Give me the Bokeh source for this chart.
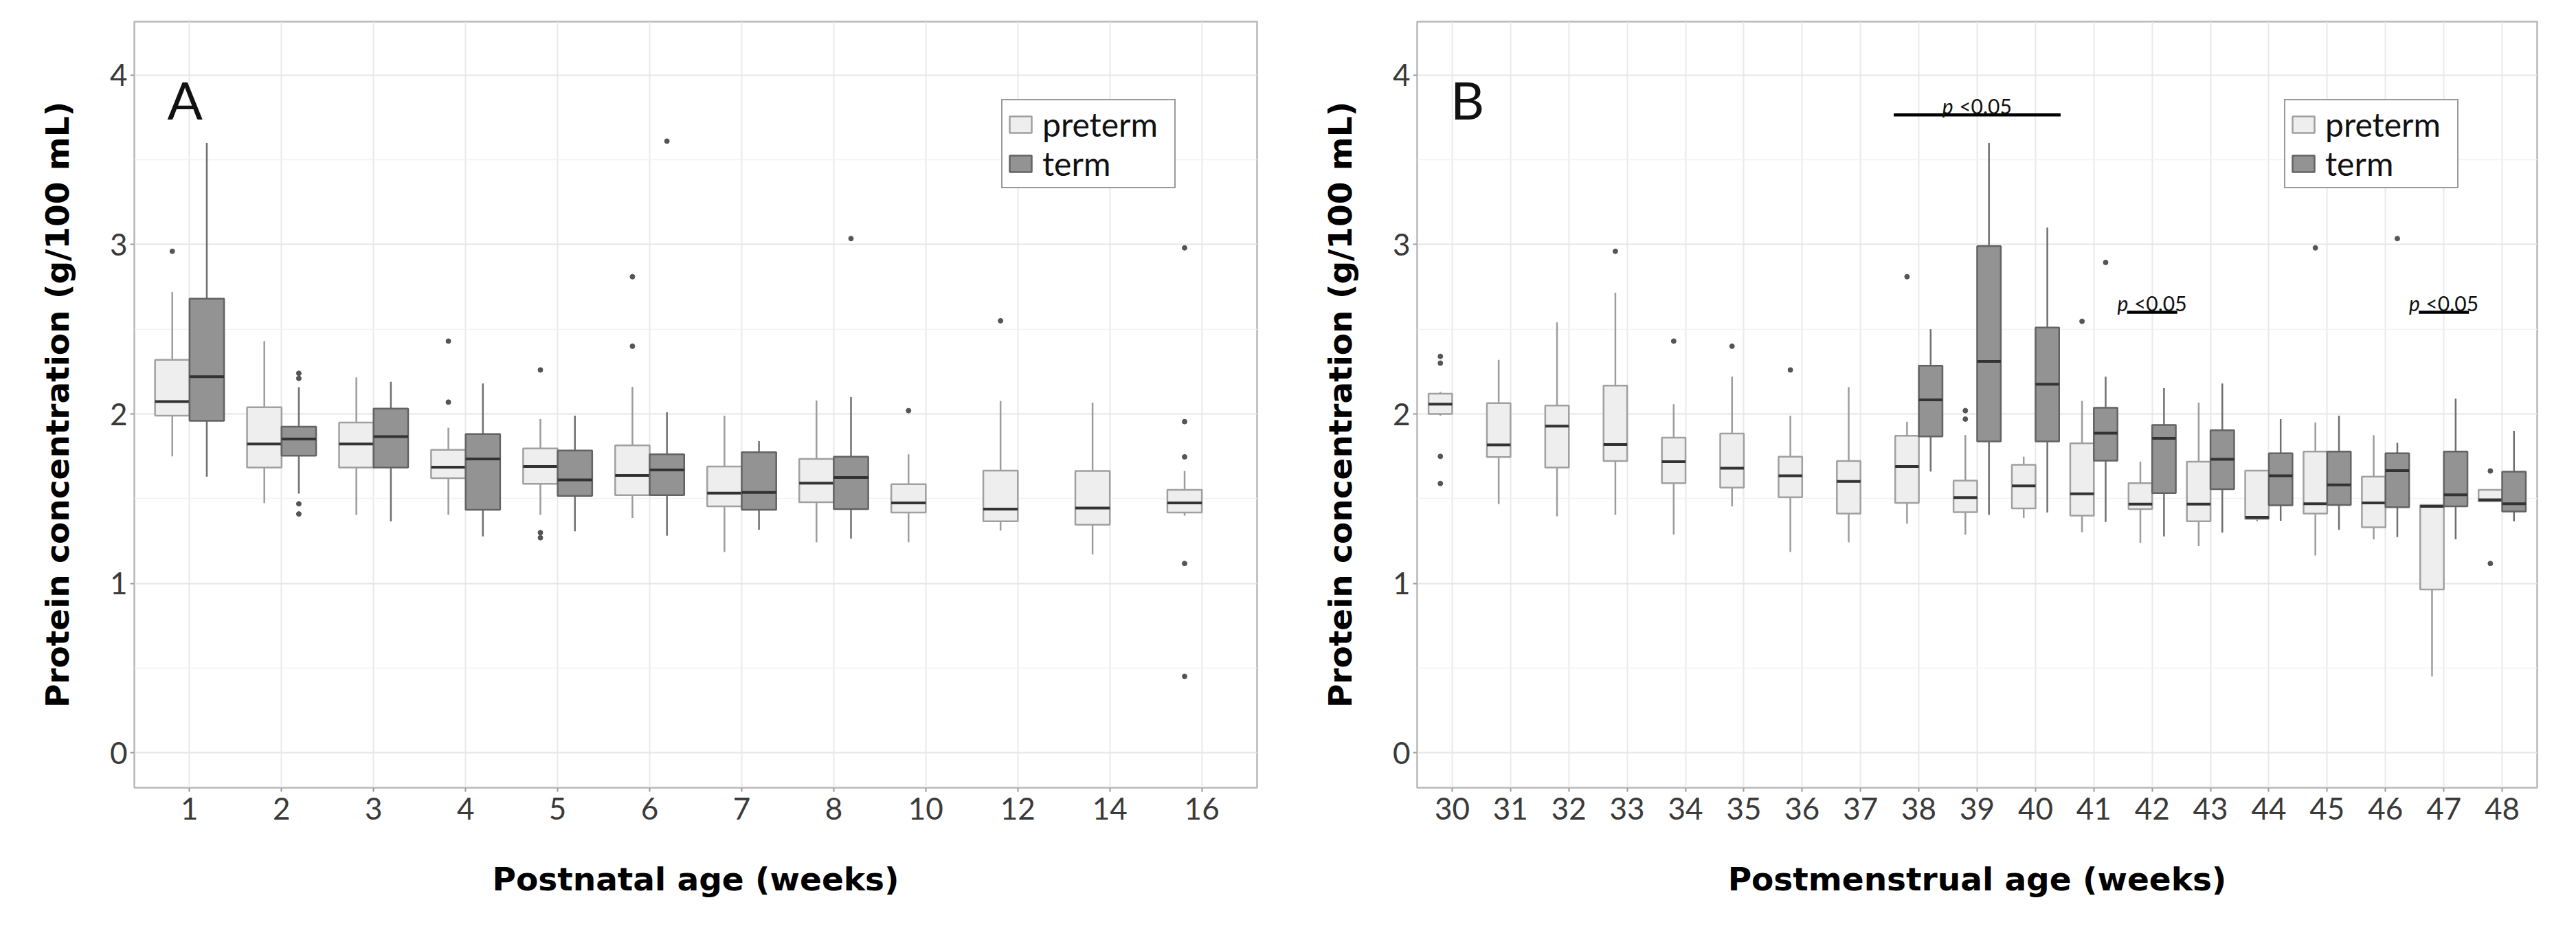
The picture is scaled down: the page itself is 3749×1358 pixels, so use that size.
from bokeh.plotting import figure
from bokeh.models import FixedTicker, Legend, LegendItem, Range1d, ColumnDataSource
from bokeh.layouts import row
from bokeh.core.properties import value
from bokeh.embed import file_html
from bokeh.resources import INLINE

# ---------------- Panel A data (postnatal age, weeks) ----------------
weeks_a = ["1", "2", "3", "4", "5", "6", "7", "8", "10", "12", "14", "16"]
a_pre_lo = [1.75, 1.475, 1.405, 1.405, 1.405, 1.386, 1.186, 1.243, 1.243, 1.312, 1.171, 1.40]
a_pre_q1 = [1.99, 1.684, 1.684, 1.621, 1.588, 1.521, 1.455, 1.479, 1.419, 1.367, 1.347, 1.419]
a_pre_med = [2.073, 1.823, 1.823, 1.686, 1.69, 1.637, 1.533, 1.592, 1.475, 1.439, 1.445, 1.475]
a_pre_q3 = [2.32, 2.04, 1.95, 1.788, 1.797, 1.815, 1.69, 1.735, 1.586, 1.666, 1.664, 1.552]
a_pre_hi = [2.72, 2.43, 2.216, 1.919, 1.97, 2.16, 1.99, 2.08, 1.762, 2.077, 2.067, 1.664]
a_pre_out = [[2.96], [], [], [2.43, 2.07], [2.26, 1.30, 1.27], [2.81, 2.40], [], [],
             [2.02], [2.55], [], [2.98, 1.955, 1.747, 1.118, 0.452]]

a_term_lo = [1.63, 1.53, 1.367, 1.278, 1.308, 1.282, 1.317, 1.265, None, None, None, None]
a_term_q1 = [1.96, 1.754, 1.684, 1.435, 1.517, 1.521, 1.435, 1.439, None, None, None, None]
a_term_med = [2.22, 1.852, 1.866, 1.735, 1.611, 1.67, 1.537, 1.625, None, None, None, None]
a_term_q3 = [2.68, 1.925, 2.032, 1.882, 1.784, 1.762, 1.774, 1.748, None, None, None, None]
a_term_hi = [3.60, 2.158, 2.19, 2.18, 1.99, 2.01, 1.84, 2.10, None, None, None, None]
a_term_out = [[], [2.24, 2.21, 1.47, 1.41], [], [], [], [3.61], [], [3.035], [], [], [], []]

# ---------------- Panel B data (postmenstrual age, weeks) ----------------
weeks_b = ["30", "31", "32", "33", "34", "35", "36", "37", "38", "39", "40",
           "41", "42", "43", "44", "45", "46", "47", "48"]
b_pre_lo = [1.99, 1.468, 1.396, 1.405, 1.288, 1.455, 1.186, 1.243, 1.353, 1.288, 1.386,
            1.302, 1.24, 1.22, 1.367, 1.165, 1.26, 0.452, 1.48]
b_pre_q1 = [2.0, 1.746, 1.684, 1.723, 1.592, 1.566, 1.509, 1.412, 1.475, 1.421, 1.443,
            1.40, 1.439, 1.367, 1.38, 1.412, 1.331, 0.965, 1.484]
b_pre_med = [2.058, 1.818, 1.928, 1.82, 1.719, 1.68, 1.635, 1.602, 1.69, 1.507, 1.576,
             1.529, 1.468, 1.468, 1.39, 1.47, 1.475, 1.455, 1.494]
b_pre_q3 = [2.12, 2.064, 2.05, 2.167, 1.86, 1.885, 1.748, 1.723, 1.872, 1.607, 1.70,
            1.827, 1.592, 1.719, 1.666, 1.778, 1.63, 1.463, 1.552]
b_pre_hi = [2.13, 2.32, 2.54, 2.715, 2.058, 2.22, 1.99, 2.158, 1.954, 1.876, 1.748,
            2.077, 1.719, 2.067, 1.67, 1.95, 1.875, 1.463, 1.552]
b_pre_out = [[2.34, 2.30, 1.75, 1.59], [], [], [2.96], [2.43], [2.40], [2.26], [], [2.81],
             [2.02, 1.97], [], [2.547], [], [], [], [2.98], [], [], [1.664, 1.118]]

_n = None
b_term_lo = [_n] * 8 + [1.66, 1.405, 1.419, 1.363, 1.278, 1.30, 1.37, 1.317, 1.274, 1.26, 1.367]
b_term_q1 = [_n] * 8 + [1.868, 1.838, 1.838, 1.725, 1.533, 1.556, 1.461, 1.463, 1.45, 1.455, 1.425]
b_term_med = [_n] * 8 + [2.083, 2.31, 2.176, 1.887, 1.856, 1.733, 1.635, 1.582, 1.666, 1.523, 1.47]
b_term_q3 = [_n] * 8 + [2.285, 2.99, 2.51, 2.037, 1.935, 1.904, 1.768, 1.778, 1.768, 1.778, 1.66]
b_term_hi = [_n] * 8 + [2.50, 3.60, 3.10, 2.22, 2.153, 2.18, 1.97, 1.99, 1.83, 2.09, 1.901]
b_term_out = [[]] * 8 + [[], [], [], [2.894], [], [], [], [], [3.035], [], []]

# significance bars (panel B): from week, to week, height, label
sig_from = ["38", "42", "47"]
sig_to = ["40", "42", "47"]
sig_y = [3.765, 2.60, 2.60]
sig_label_p = "p"
sig_label_rest = "<0.05"

y_ticks = [0, 1, 2, 3, 4]
y_minor = [0.5, 1.5, 2.5, 3.5]

FONT = "Lato"
TITLE_FONT = "DejaVu Sans"
PRE_FILL, PRE_LINE, PRE_WHISK = "#eeeeee", "#a0a0a0", "#9c9c9c"
TERM_FILL, TERM_LINE, TERM_WHISK = "#939393", "#636363", "#6f6f6f"
MED_COLOR = "#333333"


def make_panel(cats, pre, term, width, left_b, right_b, box_w, xlabel, letter, letter_x):
    n = len(cats)
    p = figure(width=width, height=1342,
               x_range=Range1d(0.4, n + 0.6), y_range=Range1d(-0.205, 4.315),
               min_border_left=left_b, min_border_right=right_b,
               min_border_top=31, min_border_bottom=196,
               toolbar_location=None, output_backend="svg")
    p.background_fill_color = "white"
    p.border_fill_color = "white"
    p.outline_line_color = "#b8b8b8"
    p.outline_line_width = 2.5

    # axes
    p.xaxis.ticker = FixedTicker(ticks=list(range(1, n + 1)))
    p.xaxis.major_label_overrides = {i + 1: c for i, c in enumerate(cats)}
    p.yaxis.ticker = FixedTicker(ticks=y_ticks, minor_ticks=y_minor)
    for ax in (p.xaxis, p.yaxis):
        ax.axis_line_color = None
        ax.major_tick_in = 0
        ax.major_tick_out = 6
        ax.major_tick_line_color = "#9a9a9a"
        ax.major_tick_line_width = 2
        ax.minor_tick_line_color = None
        ax.major_label_text_font = FONT
        ax.major_label_text_font_size = "44px"
        ax.major_label_text_color = "#3a3a3a"
        ax.axis_label_text_font = TITLE_FONT
        ax.axis_label_text_font_size = "47px"
        ax.axis_label_text_font_style = "bold"
        ax.axis_label_text_color = "#000000"
    p.xaxis.major_label_standoff = 8
    p.xaxis.axis_label = xlabel
    p.xaxis.axis_label_standoff = 56
    p.yaxis.major_label_standoff = 4
    p.yaxis.axis_label = "Protein concentration (g/100 mL)"
    p.yaxis.axis_label_standoff = 46

    # grid
    p.xgrid.grid_line_color = "#e9e9e9"
    p.xgrid.grid_line_width = 2
    p.ygrid.grid_line_color = "#e6e6e6"
    p.ygrid.grid_line_width = 2
    p.ygrid.minor_grid_line_color = "#f2f2f2"
    p.ygrid.minor_grid_line_width = 1.5

    boxes = {}
    for key, stats, side, fill, line, whisk in (
            ("preterm", pre, -1, PRE_FILL, PRE_LINE, PRE_WHISK),
            ("term", term, 1, TERM_FILL, TERM_LINE, TERM_WHISK)):
        lo, q1, med, q3, hi, outs = stats
        xs, l, r, vlo, vq1, vmed, vq3, vhi = [], [], [], [], [], [], [], []
        ox, oy = [], []
        for i in range(n):
            pos = i + 1
            for o in outs[i]:
                ox.append(pos + side * box_w / 2)
                oy.append(o)
            if med[i] is None:
                continue
            xs.append(pos + side * box_w / 2)
            l.append(pos if side > 0 else pos - box_w)
            r.append(pos + box_w if side > 0 else pos)
            vlo.append(lo[i]); vq1.append(q1[i]); vmed.append(med[i])
            vq3.append(q3[i]); vhi.append(hi[i])
        src = ColumnDataSource(dict(x=xs, left=l, right=r, lo=vlo, q1=vq1,
                                    med=vmed, q3=vq3, hi=vhi))
        p.segment(x0="x", x1="x", y0="q3", y1="hi", source=src,
                  line_color=whisk, line_width=2.5)
        p.segment(x0="x", x1="x", y0="lo", y1="q1", source=src,
                  line_color=whisk, line_width=2.5)
        boxes[key] = p.quad(left="left", right="right", bottom="q1", top="q3", source=src,
                            fill_color=fill, line_color=line, line_width=2.5)
        p.segment(x0="left", x1="right", y0="med", y1="med", source=src,
                  line_color=MED_COLOR, line_width=4)
        p.scatter(x=ox, y=oy, size=7, fill_color="#555555", line_color="#555555")

    p.text(x=[letter_x], y=[3.857], text=[letter], text_font=value(FONT),
           text_font_size="76px", text_align="center", text_baseline="alphabetic",
           text_color="#111111")

    legend = Legend(items=[LegendItem(label="preterm", renderers=[boxes["preterm"]]),
                           LegendItem(label="term", renderers=[boxes["term"]])],
                    location=(1262, 872))
    legend.label_text_font = FONT
    legend.label_text_font_size = "48px"
    legend.label_text_color = "#111111"
    legend.glyph_width = 40
    legend.glyph_height = 30
    legend.label_standoff = 12
    legend.label_width = 186
    legend.padding = 6
    legend.spacing = 0
    legend.margin = 0
    legend.border_line_color = "#333333"
    legend.border_line_width = 2.5
    legend.background_fill_color = "white"
    legend.background_fill_alpha = 1.0
    p.add_layout(legend, "center")
    return p


pA = make_panel(weeks_a,
                (a_pre_lo, a_pre_q1, a_pre_med, a_pre_q3, a_pre_hi, a_pre_out),
                (a_term_lo, a_term_q1, a_term_med, a_term_q3, a_term_hi, a_term_out),
                1892, 195, 63, 0.375, "Postnatal age (weeks)", "A", 0.95)
pB = make_panel(weeks_b,
                (b_pre_lo, b_pre_q1, b_pre_med, b_pre_q3, b_pre_hi, b_pre_out),
                (b_term_lo, b_term_q1, b_term_med, b_term_q3, b_term_hi, b_term_out),
                1841, 170, 41, 0.405, "Postmenstrual age (weeks)", "B", 1.26)

# significance annotations on panel B
pad = 0.43
s_x0 = [weeks_b.index(a) + 1 - pad for a in sig_from]
s_x1 = [weeks_b.index(b) + 1 + pad for b in sig_to]
s_mid = [(weeks_b.index(a) + weeks_b.index(b)) / 2 + 1 for a, b in zip(sig_from, sig_to)]
pB.segment(x0=s_x0, x1=s_x1, y0=sig_y, y1=sig_y, line_color="#000000", line_width=4.5)
pB.text(x=[m - 0.41 for m in s_mid], y=[v + 0.055 for v in sig_y],
        text=[sig_label_p] * len(s_mid), text_font=value(FONT), text_font_size="30px",
        text_font_style="italic", text_align="right", text_baseline="alphabetic",
        text_color="#111111")
pB.text(x=[m - 0.31 for m in s_mid], y=[v + 0.055 for v in sig_y],
        text=[sig_label_rest] * len(s_mid), text_font=value(FONT), text_font_size="30px",
        text_align="left", text_baseline="alphabetic", text_color="#111111")

layout = row(pA, pB)
open("out.html", "w").write(file_html(layout, INLINE))
